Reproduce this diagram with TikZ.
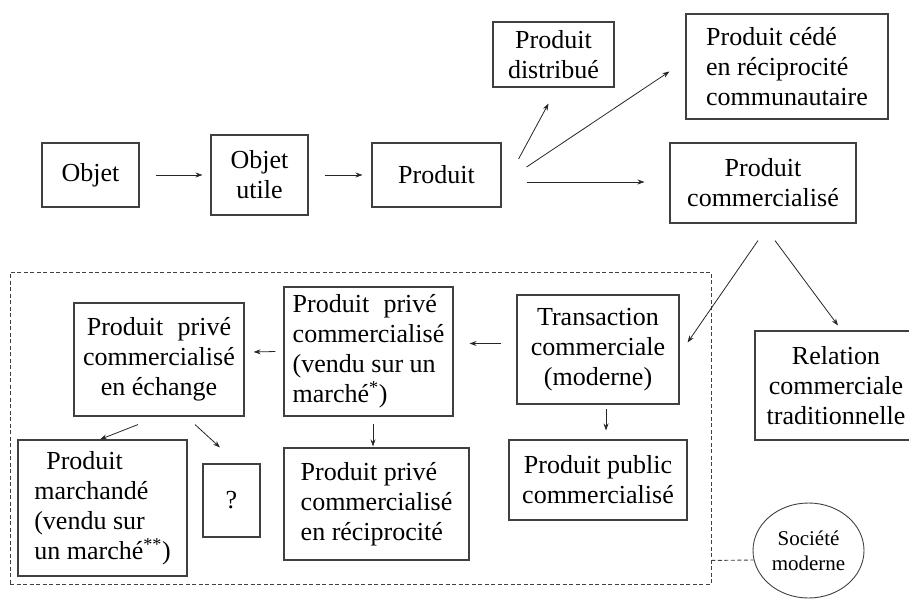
\documentclass[tikz,border=0pt]{standalone}
\usepackage{fontspec}
\setmainfont{Liberation Serif}
\usepackage{tikz}
\usetikzlibrary{arrows.meta,shapes.geometric}

\begin{document}
\begin{tikzpicture}[x=1pt,y=-1pt,
    box/.style={draw=black!75,line width=1.1pt,inner sep=0pt,align=center,
      font=\fontsize{26}{30}\selectfont},
    boxl/.style={box,align=left},
    arr/.style={draw=black!85,line width=0.8pt,-{Stealth[length=7pt,width=5pt]}},
    cadre/.style={draw=black!75,line width=0.9pt,dash pattern=on 4pt off 2.5pt}]
  \path[use as bounding box,clip] (0,0) rectangle (909,607);
%  \draw[help lines,step=50] (0,0) grid (909,607);

  % chain on top
  \node[box,minimum width=97pt,minimum height=64pt] (objet) at (90.5,175) {Objet};
  \node[box,minimum width=97pt,minimum height=80pt] (utile) at (259.5,175) {Objet\\utile};
  \node[box,minimum width=129pt,minimum height=64pt] (produit) at (436.5,175) {Produit};
  \node[box,minimum width=121pt,minimum height=65pt] (distribue) at (553.5,54.5) {Produit\\distribué};
  \node[boxl,minimum width=202pt,minimum height=105pt] (cede) at (787,66.5)
    {Produit cédé\\en réciprocité\\communautaire};
  \node[box,minimum width=186pt,minimum height=80pt] (commercial) at (763,183)
    {Produit\\commercialisé};
  \node[box,minimum width=162pt,minimum height=109pt] (relation) at (836,385.5)
    {Relation\\commerciale\\traditionnelle};

  % modern society
  \node[cadre,minimum width=701pt,minimum height=312pt] (moderne) at (360.5,428) {};
  \node[box,minimum width=162pt,minimum height=109pt] (transaction) at (598,349.5)
    {Transaction\\commerciale\\(moderne)};
  \node[box,minimum width=178pt,minimum height=80pt] (public) at (598,480)
    {Produit public\\commercialisé};
  \node[boxl,minimum width=169pt,minimum height=129pt] (vendu) at (368.5,351.5)
    {Produit\hspace{0.55em}privé\\commercialisé\\(vendu sur un\\marché\textsuperscript{*})};
  \node[boxl,minimum width=185pt,minimum height=112pt] (reciproque) at (376.5,504)
    {Produit privé\\commercialisé\\en réciprocité};
  \node[box,minimum width=170pt,minimum height=113pt] (echange) at (159,359.5)
    {Produit\hspace{0.55em}privé\\commercialisé\\en échange};
  \node[boxl,minimum width=169pt,minimum height=136pt] (marchande) at (102.5,508)
    {\hspace*{12pt}Produit\\marchandé\\(vendu sur\\un marché\textsuperscript{**})};
  \node[box,minimum width=57pt,minimum height=73pt] (inconnu) at (231.5,500.5) {?};
  \node[box,ellipse,line width=0.9pt,minimum width=111pt,minimum height=95pt,
    font=\fontsize{21}{25}\selectfont] (societe) at (808.5,550.5) {Société\\moderne};

  \draw[arr,shorten <=16pt,shorten >=8pt] (objet) -- (utile);
  \draw[arr,shorten <=16pt,shorten >=9pt] (utile) -- (produit);
  \draw[arr] ([xshift=17pt,yshift=16pt]produit.east) -- ([xshift=-5pt,yshift=-16pt]distribue.south);
  \draw[arr] ([xshift=25pt,yshift=8pt]produit.east) -- ([xshift=-16pt,yshift=-5pt]cede.west);
  \draw[arr] ([xshift=25pt,yshift=-7pt]produit.east) -- ([xshift=-25pt,yshift=1pt]commercial.west);
  \draw[arr] ([xshift=-5pt,yshift=-17pt]commercial.south) -- ([xshift=8pt,yshift=7pt]transaction.east);
  \draw[arr] ([xshift=12pt,yshift=-17pt]commercial.south) -- ([xshift=2pt,yshift=5pt]relation.north);
  \draw[arr] ([xshift=-15pt,yshift=6pt]transaction.west) -- ([xshift=16pt,yshift=8pt]vendu.east);
  \draw[arr] ([xshift=8pt,yshift=-4pt]transaction.south) -- ([yshift=9pt,xshift=8pt]public.north);
  \draw[arr] ([xshift=-8pt]vendu.west) -- ([xshift=9pt,yshift=7.5pt]echange.east);
  \draw[arr] ([xshift=4.5pt,yshift=-7pt]vendu.south) -- ([xshift=-3.5pt,yshift=1pt]reciproque.north);
  \draw[arr] ([xshift=-21pt,yshift=-8pt]echange.south) -- ([xshift=-2.5pt]marchande.north);
  \draw[arr] ([xshift=36pt,yshift=-8pt]echange.south) -- ([xshift=-11.5pt,yshift=16pt]inconnu.north);
  \draw[cadre] ([yshift=24pt]moderne.south east) -- ([xshift=1pt,yshift=-9.5pt]societe.west);
\end{tikzpicture}
\end{document}
